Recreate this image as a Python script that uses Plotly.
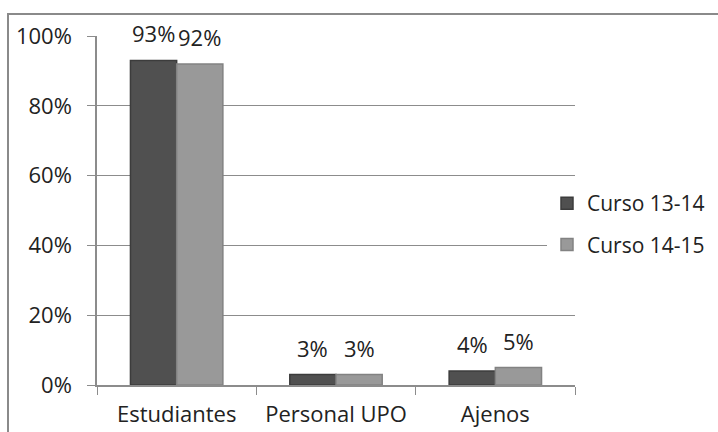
import plotly.graph_objects as go

categories = ["Estudiantes", "Personal UPO", "Ajenos"]
series_names = ["Curso 13-14", "Curso 14-15"]
curso_13_14 = [0.93, 0.03, 0.04]
curso_14_15 = [0.92, 0.03, 0.05]
y_ticks = [0, 0.2, 0.4, 0.6, 0.8, 1.0]
y_tick_labels = ["0%", "20%", "40%", "60%", "80%", "100%"]

FONT = "Open Sans"
FS = 22
W, H = 718, 432
L, R, T, B = 97, 143, 36, 47
pw = W - L - R
ph = H - T - B
BARGAP = 0.42

fig = go.Figure()
colors = ["#505050", "#999999"]
lines = ["#3c3c3c", "#828282"]
all_series = [curso_13_14, curso_14_15]
for i, (name, vals) in enumerate(zip(series_names, all_series)):
    fig.add_trace(go.Bar(
        x=categories, y=vals, name=name,
        marker=dict(color=colors[i], line=dict(color=lines[i], width=1.5)),
        cliponaxis=False, legendgroup=name,
    ))

# data labels above each bar
bar_px = pw / len(categories) * (1 - BARGAP) / 2
for i, vals in enumerate(all_series):
    shift = (i - 0.5) * bar_px
    for c, v in zip(categories, vals):
        fig.add_annotation(x=c, y=v, xref="x", yref="y", text=f"{v:.0%}",
                           showarrow=False, yanchor="bottom", xshift=shift, yshift=10,
                           font=dict(family=FONT, size=FS, color="#222222"))

fig.update_layout(
    width=W, height=H,
    margin=dict(l=L, r=R, t=T, b=B, autoexpand=False),
    paper_bgcolor="white", plot_bgcolor="white",
    barmode="group", bargap=BARGAP, bargroupgap=0,
    font=dict(family=FONT, size=FS, color="#222222"),
    showlegend=True,
    legend=dict(x=(547 - L) / pw, xanchor="left", y=(T + ph - 224) / ph,
                yanchor="middle", bgcolor="white",
                font=dict(family=FONT, size=21, color="#222222"),
                traceorder="grouped", tracegroupgap=11, itemwidth=30),
)
fig.update_yaxes(range=[0, 1], tickvals=y_ticks, ticktext=y_tick_labels,
                 showgrid=True, gridcolor="#8c8c8c", gridwidth=1,
                 showline=True, linecolor="#8c8c8c", linewidth=1.5,
                 ticks="outside", ticklen=8, tickcolor="#8c8c8c",
                 ticklabelstandoff=11,
                 zeroline=False, tickfont=dict(family=FONT, size=FS, color="#222222"))
fig.update_xaxes(showline=True, linecolor="#8c8c8c", linewidth=1.5,
                 ticks="outside", ticklen=8, tickcolor="#8c8c8c", tickson="boundaries",
                 ticklabelstandoff=9,
                 tickfont=dict(family=FONT, size=FS, color="#222222"))

fig.add_shape(type="rect", xref="paper", yref="paper",
              x0=(8 - L) / pw, x1=(W + 20 - L) / pw,
              y0=-(H + 20 - (T + ph)) / ph, y1=(T + ph - 14) / ph,
              line=dict(color="#8a8a8a", width=2), fillcolor="rgba(0,0,0,0)", layer="below")

fig.write_html("out.html", config={"displayModeBar": False},
               post_script="document.body.style.margin='0';")
